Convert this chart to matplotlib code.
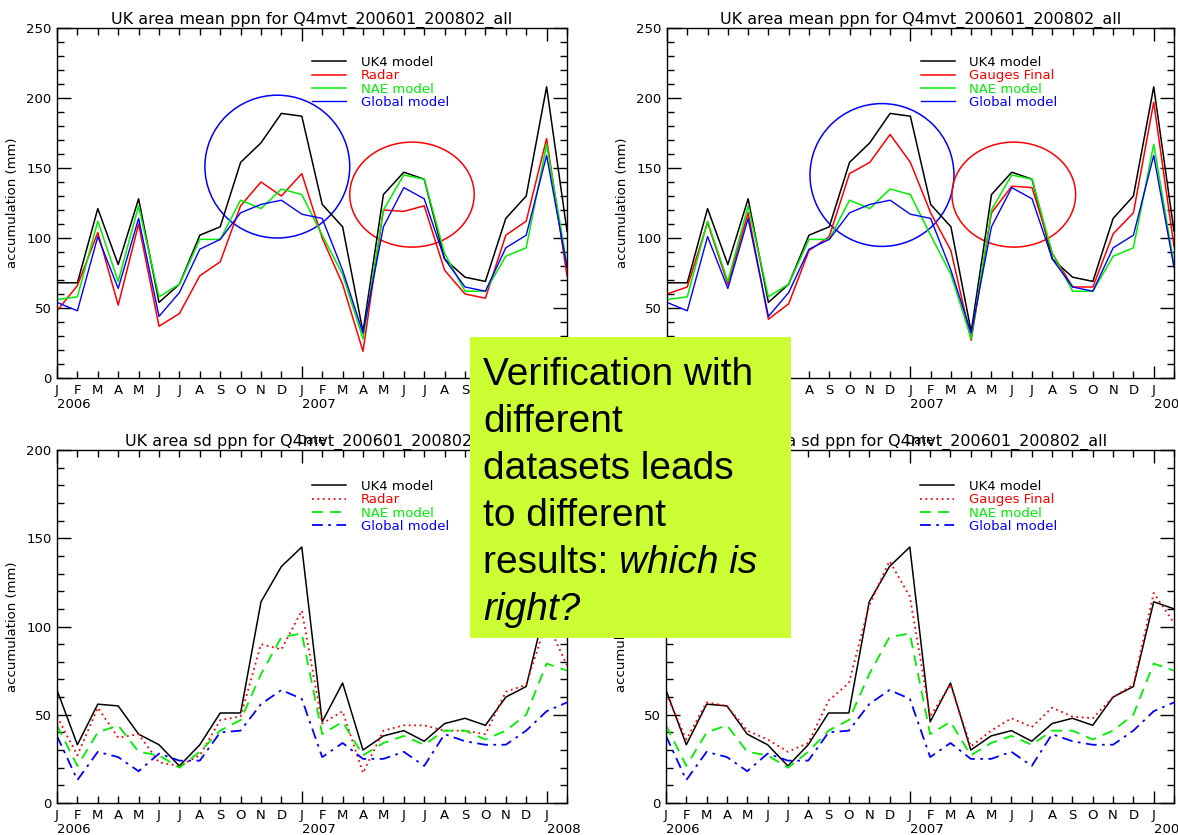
import matplotlib
matplotlib.use('Agg')
import matplotlib.pyplot as plt
from matplotlib.patches import Ellipse, Rectangle

# months Jan 2006 .. Feb 2008
month_labels = ['J', 'F', 'M', 'A', 'M', 'J', 'J', 'A', 'S', 'O', 'N', 'D'] * 2 + ['J', 'F']
year_labels = ['2006', '2007', '2008']

# area mean ppn (mm)
mean_uk4 = [68, 68, 121, 81, 128, 54, 67, 102, 108, 154, 168, 189, 187,
            124, 108, 33, 131, 147, 142, 85, 72, 69, 114, 130, 208, 105]
mean_radar = [48, 66, 104, 52, 110, 37, 46, 73, 83, 123, 140, 130, 146,
              100, 67, 19, 120, 119, 123, 77, 60, 57, 102, 112, 171, 73]
mean_gauges = [60, 65, 111, 67, 118, 42, 53, 91, 101, 146, 154, 174, 154,
               118, 91, 27, 118, 137, 136, 89, 65, 65, 103, 118, 197, 94]
mean_nae = [56, 58, 112, 69, 123, 58, 67, 99, 99, 127, 121, 135, 131,
            102, 74, 28, 120, 145, 142, 89, 62, 62, 87, 93, 167, 81]
mean_global = [54, 48, 101, 64, 114, 44, 61, 92, 99, 118, 124, 127, 117,
               114, 77, 32, 108, 136, 128, 85, 65, 62, 93, 102, 159, 79]

# area sd ppn (mm)
sd_uk4 = [64, 33, 56, 55, 39, 33, 21, 33, 51, 51, 114, 134, 145,
          46, 68, 30, 38, 41, 35, 45, 48, 44, 60, 66, 114, 110]
sd_radar = [49, 27, 54, 37, 39, 23, 21, 27, 47, 49, 90, 87, 109,
            45, 52, 17, 41, 44, 44, 41, 41, 39, 63, 67, 103, 78]
sd_gauges = [62, 36, 57, 55, 41, 36, 29, 34, 58, 68, 112, 137, 117,
             49, 67, 32, 41, 48, 43, 54, 49, 48, 60, 67, 119, 102]
sd_nae = [44, 21, 40, 44, 29, 27, 20, 29, 41, 47, 73, 94, 96,
          39, 46, 27, 34, 38, 33, 41, 41, 36, 41, 50, 79, 75]
sd_global = [38, 13, 29, 26, 18, 28, 24, 24, 40, 41, 56, 64, 59,
             26, 34, 25, 25, 29, 21, 39, 35, 33, 33, 41, 52, 57]

W, H = 1178, 835
fig = plt.figure(figsize=(W / 100, H / 100), dpi=100)
fig.patch.set_facecolor('white')

x = list(range(len(month_labels)))


def px_axes(left, top, right, bottom):
    return fig.add_axes([left / W, 1 - bottom / H, (right - left) / W, (bottom - top) / H])


def setup_axes(ax, title, ymax, ylabel_x):
    ax.set_xlim(0, len(x) - 1)
    ax.set_ylim(0, ymax)
    for s in ax.spines.values():
        s.set_linewidth(1.0)
    jan = [i for i in x if i % 12 == 0]
    other = [i for i in x if i % 12 != 0]
    ax.set_xticks(jan, [month_labels[i] for i in jan])
    ax.set_xticks(other, [month_labels[i] if i < len(x) - 1 else '' for i in other], minor=True)
    ax.set_yticks(range(0, ymax + 1, 50))
    ax.set_yticks(range(0, ymax + 1, 10), minor=True)
    ax.tick_params(which='both', direction='in', top=True, right=True, labelsize=9.5, pad=4)
    ax.tick_params(axis='x', which='major', length=9, width=1)
    ax.tick_params(axis='x', which='minor', length=5, width=1)
    ax.tick_params(axis='y', which='major', length=10, width=1)
    ax.tick_params(axis='y', which='minor', length=5, width=1)
    ax.set_title(title, fontsize=11.5, pad=3)
    ax.set_ylabel('accumulation (mm)', fontsize=9.5)
    ax.yaxis.set_label_coords(ylabel_x, 0.5)
    for k, yr in enumerate(year_labels):
        ax.annotate(yr, xy=(12 * k, 0), xycoords=('data', 'axes fraction'),
                    xytext=(0, -20), textcoords='offset pixels',
                    ha='left', va='top', fontsize=9.5, annotation_clip=False)


def add_legend(ax, lx, ly):
    leg = ax.legend(loc='upper left', bbox_to_anchor=(lx, ly), frameon=False,
                    fontsize=9.5, handlelength=2.6, handletextpad=1.1,
                    labelspacing=0.02, borderpad=0, borderaxespad=0,
                    labelcolor='linecolor')
    return leg


mean_title = 'UK area mean ppn for Q4mvt_200601_200802_all'
sd_title = 'UK area sd ppn for Q4mvt_200601_200802_all'

# ---- top panels: mean
for left, right, obs, obs_name, circles in [
        (57, 567, mean_radar, 'Radar', [(10.8, 151, 7.1, 102), (17.4, 131, 6.1, 75)]),
        (667, 1174, mean_gauges, 'Gauges Final', [(10.6, 145, 7.1, 102), (17.1, 131, 6.1, 75)])]:
    ax = px_axes(left, 28, right, 378)
    setup_axes(ax, mean_title, 250, -0.075)
    ax.plot(x, mean_uk4, color='black', lw=1.1, label='UK4 model')
    ax.plot(x, obs, color='red', lw=1.1, label=obs_name)
    ax.plot(x, mean_nae, color='#00ee00', lw=1.1, label='NAE model')
    ax.plot(x, mean_global, color='blue', lw=1.0, label='Global model')
    add_legend(ax, 0.5, 0.92)
    cx, cy, w, h = circles[0]
    ax.add_patch(Ellipse((cx, cy), w, h, fill=False, edgecolor='blue', lw=1.1))
    cx, cy, w, h = circles[1]
    ax.add_patch(Ellipse((cx, cy), w, h, fill=False, edgecolor='red', lw=1.1))
    ax.text(0.5, -0.18, 'Date', transform=ax.transAxes, ha='center', va='center', fontsize=8.5)

# ---- bottom panels: sd
for left, right, obs, obs_name in [(57, 567, sd_radar, 'Radar'),
                                   (666, 1174, sd_gauges, 'Gauges Final')]:
    ax = px_axes(left, 450, right, 803)
    setup_axes(ax, sd_title, 200, -0.075)
    ax.plot(x, sd_uk4, color='black', lw=1.1, label='UK4 model')
    ax.plot(x, obs, color='red', lw=1.3, ls=(0, (1, 2)), label=obs_name)
    ax.plot(x, sd_nae, color='#00ee00', lw=1.3, ls=(0, (6, 4)), label='NAE model')
    ax.plot(x, sd_global, color='blue', lw=1.3, ls=(0, (6, 3, 1.5, 3)), label='Global model')
    add_legend(ax, 0.5, 0.915)

# ---- callout box
box = Rectangle((470 / W, 1 - 638 / H), 321 / W, 301 / H, transform=fig.transFigure,
                facecolor='#ccff33', edgecolor='none', zorder=10)
fig.add_artist(box)

lines = ['Verification with', 'different', 'datasets leads', 'to different', 'results: ', '']
tx = 483
for k, line in enumerate(lines):
    yb = 385 + 47 * k
    if line:
        fig.text(tx / W, 1 - yb / H, line, fontsize=28, family='Liberation Sans',
                 va='baseline', ha='left', zorder=11)

fig.canvas.draw()
renderer = fig.canvas.get_renderer()
t5 = [t for t in fig.texts if t.get_text() == 'results: '][0]
bb = t5.get_window_extent(renderer)
fig.text(bb.x1 / W, 1 - (385 + 47 * 4) / H, 'which is', fontsize=28, family='Liberation Sans',
         style='italic', va='baseline', ha='left', zorder=11)
fig.text(tx / W, 1 - (385 + 47 * 5) / H, 'right?', fontsize=28, family='Liberation Sans',
         style='italic', va='baseline', ha='left', zorder=11)

fig.savefig('out.png', dpi=100)
